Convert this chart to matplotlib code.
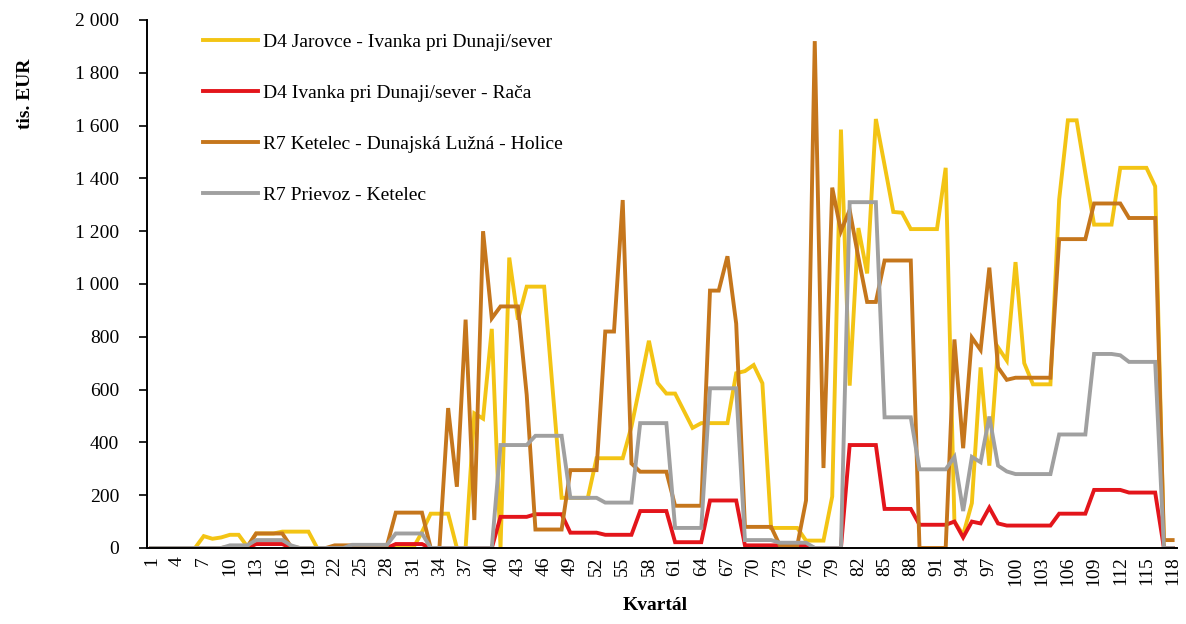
import matplotlib
matplotlib.use("Agg")
import matplotlib.pyplot as plt

quarters = list(range(1, 119))

d4_jarovce = [0,0,0,0,0,0,45,35,40,50,50,5,55,55,55,62,62,62,62,0,
              0,0,0,0,0,0,0,0,0,0,0,60,130,130,130,0,0,510,490,830,
              0,1100,865,990,990,990,590,190,190,190,190,340,340,340,340,460,620,785,625,585,
              585,520,455,473,473,473,473,662,670,693,624,76,76,76,76,28,28,28,195,1585,
              615,1212,1040,1625,1450,1273,1270,1208,1208,1208,1208,1440,100,50,170,684,312,760,710,1083,
              700,620,620,620,1320,1620,1620,1420,1225,1225,1225,1440,1440,1440,1440,1370,0,0]

d4_ivanka = [0,0,0,0,0,0,0,0,0,0,0,0,15,15,15,15,0,0,0,0,
             0,0,0,0,0,0,0,0,15,15,15,15,0,0,0,0,0,0,0,0,
             118,118,118,118,128,128,128,128,58,58,58,58,50,50,50,50,140,140,140,140,
             22,22,22,22,180,180,180,180,10,10,10,10,10,10,10,10,0,0,0,0,
             390,390,390,390,148,148,148,148,88,88,88,88,100,40,100,93,153,93,85,85,
             85,85,85,85,130,130,130,130,220,220,220,220,210,210,210,210,0,0]

r7_ketelec = [0,0,0,0,0,0,0,0,0,5,5,5,55,55,55,55,5,0,0,0,
              0,10,10,10,10,10,10,10,134,134,134,134,0,0,530,232,865,106,1200,870,
              915,915,915,580,70,70,70,70,295,295,295,295,820,820,1318,320,289,289,289,289,
              160,160,160,160,975,975,1105,850,80,80,80,80,10,10,10,180,1920,303,1365,1200,
              1280,1100,932,932,1089,1089,1089,1089,0,0,0,0,790,378,797,750,1062,684,637,645,
              645,645,645,645,1170,1170,1170,1170,1305,1305,1305,1305,1250,1250,1250,1250,30,30]

r7_prievoz = [0,0,0,0,0,0,0,0,0,10,10,10,30,30,30,30,10,0,0,0,
              0,0,0,12,12,12,12,12,55,55,55,55,0,0,0,0,0,0,0,0,
              390,390,390,390,425,425,425,425,190,190,190,190,172,172,172,172,473,473,473,473,
              76,76,76,76,605,605,605,605,30,30,30,30,20,20,20,20,0,0,0,0,
              1310,1310,1310,1310,495,495,495,495,298,298,298,298,345,140,345,325,498,312,290,280,
              280,280,280,280,430,430,430,430,735,735,735,730,705,705,705,705,0,0]

series_names = ["D4 Jarovce - Ivanka pri Dunaji/sever",
                "D4 Ivanka pri Dunaji/sever - Rača",
                "R7 Ketelec - Dunajská Lužná - Holice",
                "R7 Prievoz - Ketelec"]
series_colors = ["#F3C414", "#E3151B", "#C5761C", "#A0A0A0"]

xtick_positions = list(range(1, 119, 3))
xtick_labels = [str(q) for q in xtick_positions]
ytick_positions = [0, 200, 400, 600, 800, 1000, 1200, 1400, 1600, 1800, 2000]
ytick_labels = ["0", "200", "400", "600", "800", "1 000", "1 200", "1 400", "1 600", "1 800", "2 000"]

plt.rcParams["font.family"] = ["Liberation Serif", "DejaVu Serif"]

W, H = 1186, 624
fig = plt.figure(figsize=(W / 100, H / 100), dpi=100)
ax = fig.add_axes([147 / W, 1 - 548 / H, (1177 - 147) / W, (548 - 20) / H])

for vals, name, col in zip([d4_jarovce, d4_ivanka, r7_ketelec, r7_prievoz], series_names, series_colors):
    ax.plot(quarters, vals, color=col, lw=2.8, label=name, solid_joinstyle="miter")

ax.set_xlim(0.5, 118.5)
ax.set_ylim(0, 2000)
ax.set_xticks(xtick_positions)
ax.set_xticklabels(xtick_labels, rotation=90, fontsize=14)
ax.set_yticks(ytick_positions)
ax.set_yticklabels(ytick_labels, fontsize=14)
ax.tick_params(axis="x", length=0, pad=6)
ax.tick_params(axis="y", length=6, width=1.2, direction="out", pad=14)

for s in ["top", "right"]:
    ax.spines[s].set_visible(False)
for s in ["left", "bottom"]:
    ax.spines[s].set_color("black")
    ax.spines[s].set_linewidth(1.4)

fig.text(655 / W, 1 - 606 / H, "Kvartál", fontsize=14, fontweight="bold", ha="center", va="center")
fig.text(25 / W, 1 - 94 / H, "tis. EUR", rotation=90, fontsize=14, fontweight="bold",
         ha="center", va="center")

leg = ax.legend(loc="upper left", bbox_to_anchor=(203 / W, 1 - 33 / H), bbox_transform=fig.transFigure,
                frameon=False, fontsize=14, handlelength=2.85, handletextpad=0.25,
                labelspacing=1.72, borderpad=0, borderaxespad=0)

fig.savefig("out.png", dpi=100)
